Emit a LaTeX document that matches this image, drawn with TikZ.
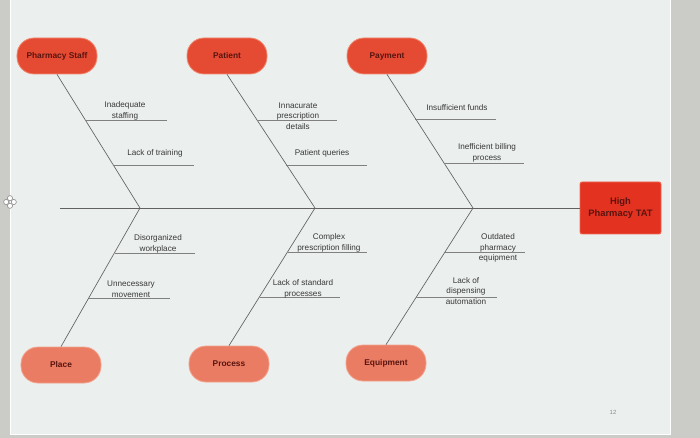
\documentclass[tikz,border=0pt]{standalone}
\usepackage{fontspec}
\setmainfont{Liberation Sans}
\definecolor{topred}{HTML}{E54B33}
\definecolor{topedge}{HTML}{F08A70}
\definecolor{botred}{HTML}{E97C62}
\definecolor{botedge}{HTML}{F3A48F}
\definecolor{tatred}{HTML}{E3321F}
\definecolor{tatedge}{HTML}{EE6A55}
\definecolor{maroon}{HTML}{5A1410}
\definecolor{slide}{HTML}{EBEFEE}
\definecolor{bezel}{HTML}{CBCBC7}
\begin{document}
\begin{tikzpicture}[x=1bp,y=-1bp,
  cat/.style={rounded corners=17bp, minimum width=80bp, minimum height=36bp, inner sep=0pt,
    font=\fontsize{8.4}{10}\selectfont\bfseries, text=maroon, line width=0.8pt},
  topcat/.style={cat, fill=topred, draw=topedge},
  botcat/.style={cat, fill=botred, draw=botedge},
  lbl/.style={align=center, inner sep=0pt, font=\fontsize{8.2}{10.6}\selectfont, text=black!78},
  bone/.style={draw=black!62, line width=0.65pt},
  sub/.style={draw=black!50, line width=0.6pt}]
\useasboundingbox (0,0) rectangle (700,438);
% screen background
\fill[bezel] (0,0) rectangle (700,438);
\fill[slide] (10,0) rectangle (670,434);
\draw[white, line width=0.6pt] (10,0) -- (10,434) -- (670,434) -- (670,0);
% move handle icon
\foreach \dx/\dy in {0/-3.8,0/3.8,-3.8/0,3.8/0}
  \draw[black!45, fill=white, line width=0.6pt] (10+\dx,202+\dy) circle (2.6);
% category nodes
\node[topcat] (ps) at (57,56) {Pharmacy Staff};
\node[topcat] (pa) at (227,56) {Patient};
\node[topcat] (pm) at (387,56) {Payment};
\node[botcat] (pl) at (61,365) {Place};
\node[botcat] (pr) at (229,364) {Process};
\node[botcat] (eq) at (386,363) {Equipment};
% effect
\node[fill=tatred, draw=tatedge, line width=0.8pt, rounded corners=2bp,
  minimum width=81bp, minimum height=52bp, inner sep=0pt, align=center,
  font=\fontsize{9.4}{11.5}\selectfont\bfseries, text=maroon] (tat) at (620.5,208) {High\\Pharmacy TAT};
% spine and junctions
\coordinate (tail) at (60,208);
\coordinate (j1) at (140,208);
\coordinate (j2) at (315,208);
\coordinate (j3) at (473,208);
\draw[bone] (tail) -- (tat.west);
\draw[bone] (ps.south) -- (j1) -- (pl.north);
\draw[bone] (pa.south) -- (j2) -- (pr.north);
\draw[bone] (pm.south) -- (j3) -- (eq.north);
% sub-causes: Pharmacy Staff
\coordinate (a1) at (85,120);  \coordinate (a1e) at (167,120);
\coordinate (a2) at (112.7,165); \coordinate (a2e) at (194,165);
\draw[sub] (a1) -- (a1e); \draw[sub] (a2) -- (a2e);
\node[lbl] (t1) at (125,111) {Inadequate\\staffing};
\node[lbl] (t2) at (155,153) {Lack of training};
% Patient
\coordinate (b1) at (256.6,120); \coordinate (b1e) at (337,120);
\coordinate (b2) at (286.1,165); \coordinate (b2e) at (367,165);
\draw[sub] (b1) -- (b1e); \draw[sub] (b2) -- (b2e);
\node[lbl] (t3) at (298,116) {Innacurate\\prescription\\details};
\node[lbl] (t4) at (322,153) {Patient queries};
% Payment
\coordinate (c1) at (415,119); \coordinate (c1e) at (496,119);
\coordinate (c2) at (443.5,163); \coordinate (c2e) at (524,163);
\draw[sub] (c1) -- (c1e); \draw[sub] (c2) -- (c2e);
\node[lbl] (t5) at (457,108) {Insufficient funds};
\node[lbl] (t6) at (487,153) {Inefficient billing\\process};
% Place
\coordinate (d1) at (115,253); \coordinate (d1e) at (195,253);
\coordinate (d2) at (89.4,298); \coordinate (d2e) at (170,298);
\draw[sub] (d1) -- (d1e); \draw[sub] (d2) -- (d2e);
\node[lbl] (t7) at (158,244) {Disorganized\\workplace};
\node[lbl] (t8) at (131,289) {Unnecessary\\movement};
% Process
\coordinate (e1) at (288.2,252); \coordinate (e1e) at (367,252);
\coordinate (e2) at (260.2,297); \coordinate (e2e) at (340,297);
\draw[sub] (e1) -- (e1e); \draw[sub] (e2) -- (e2e);
\node[lbl] (t9) at (329,243) {Complex\\prescription filling};
\node[lbl] (t10) at (303,289) {Lack of standard\\processes};
% Equipment
\coordinate (f1) at (445.2,252); \coordinate (f1e) at (525,252);
\coordinate (f2) at (416,297); \coordinate (f2e) at (497,297);
\draw[sub] (f1) -- (f1e); \draw[sub] (f2) -- (f2e);
\node[lbl] (t11) at (498,248) {Outdated\\pharmacy\\equipment};
\node[lbl] (t12) at (466,291) {Lack of\\dispensing\\automation};
% page number
\node[font=\fontsize{6}{7}\selectfont, text=black!45] (pg) at (613,412) {12};
\end{tikzpicture}
\end{document}
